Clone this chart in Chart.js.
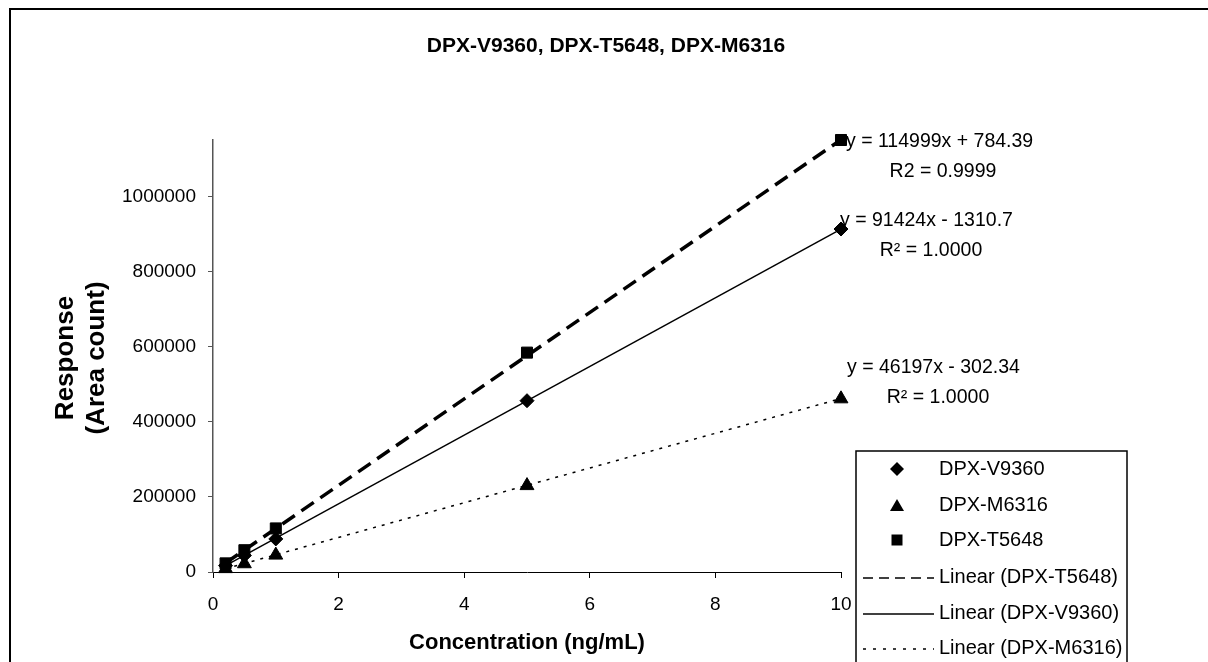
<!DOCTYPE html>
<html>
<head>
<meta charset="utf-8">
<script src="https://cdn.jsdelivr.net/npm/chart.js@4.4.0/dist/chart.umd.min.js"></script>
<style>
  html, body { margin: 0; padding: 0; background: #fff; }
  #wrap { width: 1208px; height: 662px; }
</style>
</head>
<body>
<div id="wrap"><canvas id="calChart" width="1208" height="662"></canvas></div>
<script>
// Datos de calibración
const concentrations = [0.2, 0.5, 1, 5, 10];
const respV9360 = [17000, 44000, 88000, 456000, 913000];
const respM6316 = [9000, 22000, 45000, 230000, 461000];
const respT5648 = [23000, 58000, 116000, 584000, 1150000];

// Líneas de tendencia (extremos)
const trendX = [0.2, 10];
const trendT5648 = [23784, 1150774];
const trendV9360 = [16974, 912930];
const trendM6316 = [8937, 461668];

const seriesNames = ['DPX-V9360', 'DPX-M6316', 'DPX-T5648'];
const trendNames = ['Linear (DPX-T5648)', 'Linear (DPX-V9360)', 'Linear (DPX-M6316)'];
const equations = [
    ['y = 114999x + 784.39', 'R2 = 0.9999'],
    ['y = 91424x - 1310.7', 'R\u00B2 = 1.0000'],
    ['y = 46197x - 302.34', 'R\u00B2 = 1.0000']
];
const yTickValues = [0, 200000, 400000, 600000, 800000, 1000000];

const FONT = "'Liberation Sans', Arial, sans-serif";

function toPoints(xs, ys) {
    return xs.map((x, i) => ({ x: x, y: ys[i] }));
}

// Marcadores de la leyenda
function drawMarker(ctx, style, x, y) {
    ctx.beginPath();
    if (style === 'diamond') {
        ctx.moveTo(x, y - 7); ctx.lineTo(x + 7, y); ctx.lineTo(x, y + 7); ctx.lineTo(x - 7, y);
    } else if (style === 'triangle') {
        ctx.moveTo(x, y - 6); ctx.lineTo(x + 7, y + 6); ctx.lineTo(x - 7, y + 6);
    } else {
        ctx.rect(x - 5.5, y - 5.5, 11, 11);
    }
    ctx.closePath();
    ctx.fill();
}

// Plugin para título, ejes, ecuaciones, leyenda y borde
const decorPlugin = {
    id: 'decor',
    afterDraw(chart) {
        const ctx = chart.ctx;
        ctx.save();
        ctx.fillStyle = '#000';
        ctx.strokeStyle = '#000';

        // borde exterior
        ctx.lineWidth = 2;
        ctx.strokeRect(10, 9, 1400, 900);

        // título
        ctx.textAlign = 'center';
        ctx.textBaseline = 'middle';
        ctx.font = 'bold 21px ' + FONT;
        ctx.fillText('DPX-V9360, DPX-T5648, DPX-M6316', 606, 46);

        // títulos de ejes
        ctx.font = 'bold 22px ' + FONT;
        ctx.fillText('Concentration (ng/mL)', 527, 643);
        ctx.save();
        ctx.translate(66, 358);
        ctx.rotate(-Math.PI / 2);
        ctx.font = 'bold 26px ' + FONT;
        ctx.fillText('Response', 0, 0);
        ctx.fillText('(Area count)', 0, 31);
        ctx.restore();

        // ecuaciones
        ctx.font = '19.5px ' + FONT;
        const eqPos = [
            { x: 846, y: 142, rx: 943, ry: 172 },
            { x: 840, y: 221, rx: 931, ry: 251 },
            { x: 847, y: 368, rx: 938, ry: 398 }
        ];
        equations.forEach((eq, i) => {
            ctx.textAlign = 'left';
            ctx.fillText(eq[0], eqPos[i].x, eqPos[i].y);
            ctx.textAlign = 'center';
            ctx.fillText(eq[1], eqPos[i].rx, eqPos[i].ry);
        });

        // leyenda
        const lx = 856, ly = 451;
        ctx.fillStyle = '#fff';
        ctx.fillRect(lx, ly, 271, 260);
        ctx.lineWidth = 1.5;
        ctx.strokeRect(lx, ly, 271, 260);
        ctx.fillStyle = '#000';
        ctx.textAlign = 'left';
        ctx.font = '20px ' + FONT;
        const rowY = [469, 505, 540, 577, 613, 648];
        const markers = ['diamond', 'triangle', 'square'];
        seriesNames.forEach((name, i) => {
            drawMarker(ctx, markers[i], 897, rowY[i]);
            ctx.fillText(name, 939, rowY[i]);
        });
        const lineStyles = [
            { w: 1.5, dash: [10, 6] },
            { w: 1.5, dash: [] },
            { w: 1.5, dash: [3, 7] }
        ];
        trendNames.forEach((name, i) => {
            const yy = rowY[i + 3];
            ctx.lineWidth = lineStyles[i].w;
            ctx.setLineDash(lineStyles[i].dash);
            ctx.beginPath();
            ctx.moveTo(863, yy + 1);
            ctx.lineTo(934, yy + 1);
            ctx.stroke();
            ctx.setLineDash([]);
            ctx.fillText(name, 939, yy);
        });
        ctx.restore();
    }
};

document.addEventListener('DOMContentLoaded', function() {
    const ctx = document.getElementById('calChart').getContext('2d');
    new Chart(ctx, {
        type: 'scatter',
        data: {
            datasets: [
                {
                    label: trendNames[0],
                    data: toPoints(trendX, trendT5648),
                    showLine: true,
                    borderColor: '#000',
                    borderWidth: 3.5,
                    borderDash: [15, 8],
                    pointRadius: 0
                },
                {
                    label: trendNames[1],
                    data: toPoints(trendX, trendV9360),
                    showLine: true,
                    borderColor: '#000',
                    borderWidth: 1.5,
                    pointRadius: 0
                },
                {
                    label: trendNames[2],
                    data: toPoints(trendX, trendM6316),
                    showLine: true,
                    borderColor: '#000',
                    borderWidth: 1.5,
                    borderDash: [3, 6],
                    pointRadius: 0
                },
                {
                    label: seriesNames[0],
                    data: toPoints(concentrations, respV9360),
                    pointStyle: 'rectRot',
                    pointRadius: 7,
                    backgroundColor: '#000',
                    borderColor: '#000'
                },
                {
                    label: seriesNames[1],
                    data: toPoints(concentrations, respM6316),
                    pointStyle: 'triangle',
                    pointRadius: 8,
                    backgroundColor: '#000',
                    borderColor: '#000'
                },
                {
                    label: seriesNames[2],
                    data: toPoints(concentrations, respT5648),
                    pointStyle: 'rect',
                    pointRadius: 7.8,
                    backgroundColor: '#000',
                    borderColor: '#000'
                }
            ]
        },
        options: {
            responsive: false,
            animation: false,
            clip: false,
            layout: { padding: { top: 140, right: 367, left: 0, bottom: 0 } },
            plugins: {
                legend: { display: false },
                title: { display: false },
                tooltip: { enabled: false }
            },
            scales: {
                x: {
                    type: 'linear',
                    min: 0,
                    max: 10,
                    afterFit: scale => { scale.height = 90; },
                    ticks: {
                        stepSize: 2,
                        color: '#000',
                        padding: 15,
                        font: { family: FONT, size: 19 }
                    },
                    grid: { drawOnChartArea: false, tickLength: 6, color: '#000' },
                    border: { color: '#000', width: 1 }
                },
                y: {
                    min: 0,
                    max: 1150000,
                    afterFit: scale => { scale.width = 213; },
                    afterBuildTicks: scale => {
                        scale.ticks = yTickValues.map(v => ({ value: v }));
                    },
                    ticks: {
                        color: '#000',
                        padding: 12,
                        font: { family: FONT, size: 19 },
                        callback: v => String(v)
                    },
                    grid: { drawOnChartArea: false, tickLength: 5, color: '#555' },
                    border: { color: '#555', width: 1.5 }
                }
            }
        },
        plugins: [decorPlugin]
    });
});
</script>
</body>
</html>
